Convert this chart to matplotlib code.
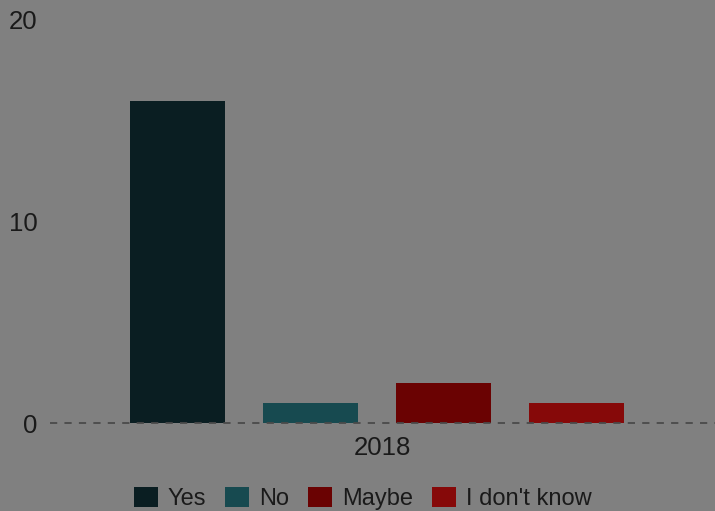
import matplotlib
matplotlib.use("Agg")
import matplotlib.pyplot as plt
from matplotlib.patches import Patch

plt.rcParams['font.family'] = ['Liberation Sans', 'DejaVu Sans']

categories = ["2018"]
series = ["Yes", "No", "Maybe", "I don't know"]
values = [16, 1, 2, 1]
colors = ["#0a1e22", "#174a50", "#6a0202", "#860909"]
yticks = [0, 10, 20]

bg = "#808080"
fig = plt.figure(figsize=(7.15, 5.11), dpi=100, facecolor=bg)
ax = fig.add_axes([50/715, (511-423)/511, 665/715, (423-20)/511])
ax.set_facecolor(bg)

width = 0.142
step = 0.2
n = len(series)
for i, (s, v, c) in enumerate(zip(series, values, colors)):
    off = (i - (n - 1) / 2) * step
    ax.bar(0 + off, v, width=width, color=c, label=s, zorder=2)

ax.axhline(0, color="#4a4a4a", linestyle=(0, (4, 4)), linewidth=1.3, zorder=3, clip_on=False)

ax.set_xlim(-0.492, 0.508)
ax.set_ylim(0, 20)
ax.set_yticks(yticks)
ax.set_yticklabels([str(t) for t in yticks], fontsize=18.5, color="#1a1a1a")
ax.set_xticks([0.008])
ax.set_xticklabels(categories, fontsize=18.5, color="#1a1a1a")
ax.tick_params(axis='both', length=0)
ax.tick_params(axis='y', pad=9)
ax.tick_params(axis='x', pad=9)
for sp in ax.spines.values():
    sp.set_visible(False)

handles = [Patch(facecolor=c, label=s) for s, c in zip(series, colors)]
leg = fig.legend(handles=handles, loc="center", bbox_to_anchor=(362.5/715, 1 - 498.5/511),
                 ncol=4, frameon=False, fontsize=17, handlelength=1.02, handleheight=0.95,
                 handletextpad=0.42, columnspacing=0.8, borderpad=0)
for t in leg.get_texts():
    t.set_color("#1a1a1a")

fig.savefig("out.png", dpi=100, facecolor=bg)
